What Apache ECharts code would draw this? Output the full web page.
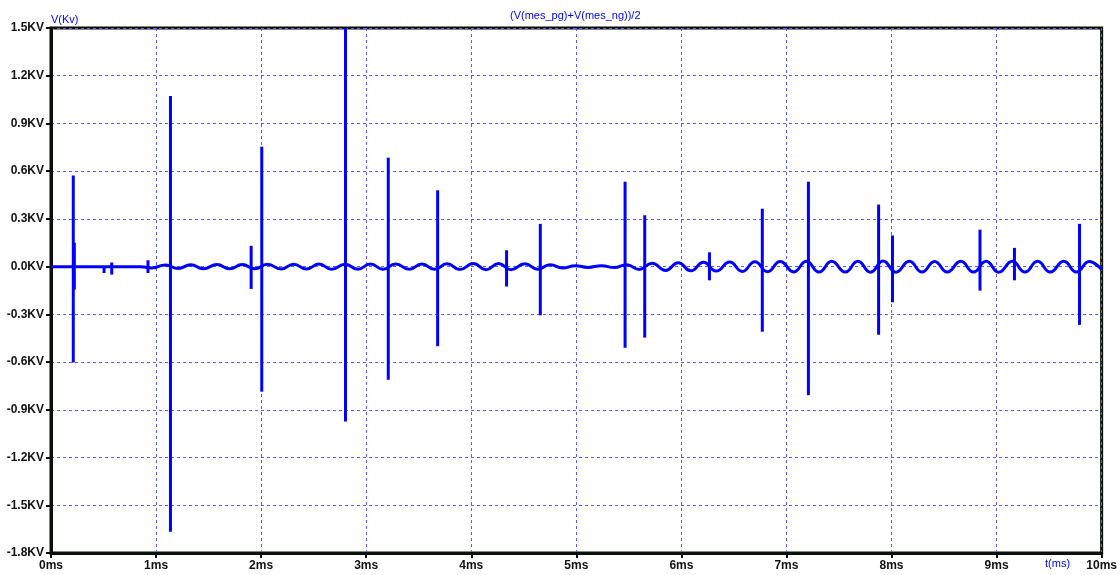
<!DOCTYPE html>
<html>
<head>
<meta charset="utf-8">
<script src="https://cdn.jsdelivr.net/npm/echarts@6/dist/echarts.min.js"></script>
<style>
  html, body { margin: 0; padding: 0; background: #ffffff; }
  #chart { width: 1120px; height: 575px; }
</style>
</head>
<body>
<div id="chart"></div>
<script>
// Time axis (ms) and voltage axis (KV) tick labels
const xTickLabels = ['0ms', '1ms', '2ms', '3ms', '4ms', '5ms', '6ms', '7ms', '8ms', '9ms', '10ms'];
const yTickLabels = ['-1.8KV', '-1.5KV', '-1.2KV', '-0.9KV', '-0.6KV', '-0.3KV', '0.0KV',
                     '0.3KV', '0.6KV', '0.9KV', '1.2KV', '1.5KV'];

// Slow ringing of the common-mode voltage: turning points (time in ms, value in KV)
const waveTime = [
  0.00, 0.85, 0.96, 1.09, 1.21, 1.33, 1.45, 1.58, 1.70, 1.82, 1.94, 2.06, 2.19, 2.31, 2.43,
  2.55, 2.67, 2.80, 2.92, 3.04, 3.16, 3.28, 3.41, 3.53, 3.65, 3.77, 3.89, 4.02, 4.14, 4.26,
  4.38, 4.51, 4.63, 4.75, 4.87, 4.99, 5.11, 5.24, 5.36, 5.48, 5.60, 5.72, 5.85, 5.97, 6.09,
  6.21, 6.33, 6.46, 6.58, 6.70, 6.82, 6.94, 7.07, 7.19, 7.31, 7.43, 7.56, 7.68, 7.80, 7.92,
  8.04, 8.17, 8.29, 8.41, 8.53, 8.66, 8.78, 8.90, 9.02, 9.15, 9.27, 9.39, 9.51, 9.64, 9.76,
  9.88, 10.00
];
const waveValue = [
  0.000, 0.000, -0.008, 0.010, -0.012, 0.012, -0.013, 0.013, -0.014, 0.013, -0.013, 0.015, -0.015, 0.015, -0.015,
  0.016, -0.016, 0.015, -0.016, 0.016, -0.016, 0.017, -0.017, 0.017, -0.017, 0.018, -0.018, 0.019, -0.019, 0.020,
  -0.019, 0.018, -0.016, 0.012, -0.008, 0.006, -0.005, 0.006, -0.006, 0.012, -0.018, 0.022, -0.024, 0.025, -0.026,
  0.027, -0.028, 0.029, -0.030, 0.031, -0.032, 0.033, -0.033, 0.034, -0.034, 0.034, -0.034, 0.034, -0.035, 0.036,
  -0.035, 0.034, -0.034, 0.033, -0.034, 0.034, -0.034, 0.034, -0.035, 0.034, -0.034, 0.034, -0.034, 0.034, -0.034,
  0.033, -0.020
];

// Switching transients: time (ms), positive and negative excursion (KV)
const spikeTime = [0.212, 0.222, 0.505, 0.578, 0.923, 1.137, 1.905, 2.006, 2.803, 3.210, 3.680, 4.336,
                   4.657, 5.464, 5.651, 6.267, 6.770, 7.209, 7.877, 8.009, 8.842, 9.170, 9.789];
const spikeHigh = [0.573, 0.150, 0.000, 0.026, 0.040, 1.072, 0.131, 0.754, 1.500, 0.685, 0.480, 0.103,
                   0.269, 0.534, 0.323, 0.090, 0.364, 0.534, 0.390, 0.196, 0.232, 0.118, 0.269];
const spikeLow  = [-0.603, -0.144, -0.040, -0.050, -0.040, -1.667, -0.140, -0.786, -0.973, -0.711, -0.500, -0.125,
                   -0.306, -0.510, -0.446, -0.086, -0.409, -0.808, -0.428, -0.224, -0.151, -0.086, -0.366];

const traceColor = '#0000ff';
const gridColor = '#5a5aff';
const labelFont = 'Liberation Sans, Arial, sans-serif';

const waveData = waveTime.map((t, i) => [t, waveValue[i]]);
const spikeData = spikeTime.map((t, i) => [t, spikeHigh[i], spikeLow[i]]);

const chart = echarts.init(document.getElementById('chart'), null, { renderer: 'canvas' });

chart.setOption({
  animation: false,
  backgroundColor: '#ffffff',
  grid: {
    left: 51, right: 16, top: 28, bottom: 22,
    show: true, borderColor: '#0a0f0a', borderWidth: 3, backgroundColor: 'transparent'
  },
  graphic: [
    {
      type: 'text', left: 510, top: 10,
      style: { text: '(V(mes_pg)+V(mes_ng))/2', fill: traceColor, font: '11px ' + labelFont }
    },
    {
      type: 'text', left: 1045, top: 558,
      style: { text: 't(ms)', fill: traceColor, font: '11px ' + labelFont }
    }
  ],
  xAxis: {
    type: 'value', min: 0, max: 10, interval: 1,
    axisLine: { show: true, onZero: false, lineStyle: { color: '#0a0f0a', width: 3 } },
    axisTick: { show: true, inside: false, length: 5, lineStyle: { color: '#0a0f0a', width: 2 } },
    axisLabel: {
      margin: 7, color: '#111', fontWeight: 'bold', fontSize: 12, fontFamily: labelFont,
      formatter: (v) => xTickLabels[Math.round(v)]
    },
    splitLine: { show: true, lineStyle: { color: gridColor, width: 1, type: [3, 3] } }
  },
  yAxis: {
    type: 'value', min: -1.8, max: 1.5, interval: 0.3,
    name: 'V(Kv)', nameLocation: 'end', nameGap: 3,
    nameTextStyle: { color: traceColor, fontSize: 11, fontFamily: labelFont, align: 'left', verticalAlign: 'bottom' },
    axisLine: { show: true, onZero: false, lineStyle: { color: '#0a0f0a', width: 3 } },
    axisTick: { show: true, inside: false, length: 5, lineStyle: { color: '#0a0f0a', width: 2 } },
    axisLabel: {
      margin: 7, color: '#111', fontWeight: 'bold', fontSize: 12, fontFamily: labelFont,
      formatter: (v) => yTickLabels[Math.round((v + 1.8) / 0.3)]
    },
    splitLine: { show: true, lineStyle: { color: gridColor, width: 1, type: [3, 3] } }
  },
  series: [
    {
      name: 'ringing', type: 'line', data: waveData,
      smooth: 0.5, smoothMonotone: 'x', showSymbol: false, clip: true,
      lineStyle: { color: traceColor, width: 3 }, z: 3
    },
    {
      name: 'transients', type: 'custom', data: spikeData, clip: true, z: 4,
      encode: { x: 0, y: [1, 2] },
      renderItem: (params, api) => {
        const top = api.coord([api.value(0), api.value(1)]);
        const bottom = api.coord([api.value(0), api.value(2)]);
        return {
          type: 'line',
          shape: { x1: top[0], y1: top[1], x2: bottom[0], y2: bottom[1] },
          style: { stroke: traceColor, lineWidth: 3 }
        };
      }
    }
  ]
});
</script>
</body>
</html>
